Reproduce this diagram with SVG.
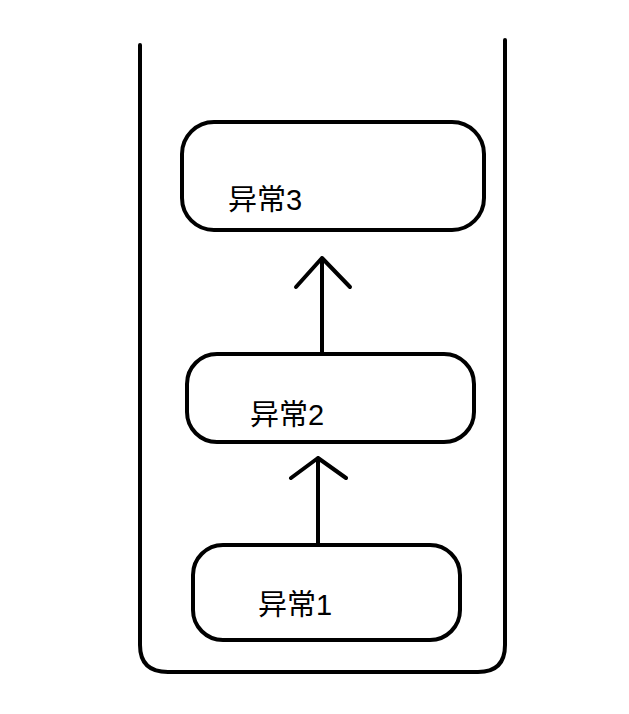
<svg xmlns="http://www.w3.org/2000/svg" width="629" height="714" viewBox="0 0 629 714">
<style>
.s{fill:none;stroke:#000;stroke-width:4;stroke-linecap:round;stroke-linejoin:round}
.t{font-family:"Liberation Sans","Noto Sans CJK SC",sans-serif;font-size:29px;fill:#000}
</style>
<rect width="629" height="714" fill="#fff"/>
<path id="container" class="s" d="M140,45 V645 Q140,672 168,672 H478 Q505,672 505,645 V40"/>
<g id="n3"><rect class="s" x="182" y="122" width="302" height="108" rx="32"/><text class="t" x="228" y="210">异常3</text></g>
<g id="n2"><rect class="s" x="187" y="354" width="287" height="88" rx="30"/><text class="t" x="250" y="425">异常2</text></g>
<g id="n1"><rect class="s" x="193" y="545" width="267" height="95" rx="30"/><text class="t" x="258" y="615">异常1</text></g>
<g id="connectors">
<path class="s" d="M318,545 V458 M291,478 L318,458 L346,478"/>
<path class="s" d="M322,354 V258 M296,287 L322,258 L350,287"/>
</g>
</svg>
